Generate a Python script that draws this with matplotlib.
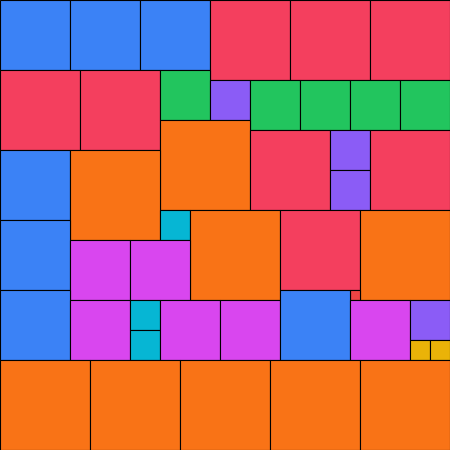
import matplotlib
matplotlib.use("Agg")
import matplotlib.pyplot as plt
from matplotlib.patches import Rectangle

# group colours
palette = {
    "blue": "#3b82f6",
    "rose": "#f43f5e",
    "green": "#22c55e",
    "violet": "#8b5cf6",
    "orange": "#f97316",
    "cyan": "#06b6d4",
    "fuchsia": "#d946ef",
    "yellow": "#eab308",
    "red": "#ef4444",
}

# packed squares: group, left, top, side (chart units)
groups = ["blue", "blue", "blue", "rose", "rose", "rose",
          "rose", "rose", "green", "violet", "green", "green", "green", "green",
          "orange", "rose", "violet", "violet", "rose",
          "blue", "orange",
          "cyan", "orange", "rose", "orange", "red",
          "blue", "fuchsia", "fuchsia",
          "blue", "fuchsia", "cyan", "cyan", "fuchsia", "fuchsia", "blue",
          "fuchsia", "violet", "yellow", "yellow",
          "orange", "orange", "orange", "orange", "orange"]
lefts = [0, 70, 140, 210, 290, 370,
         0, 80, 160, 210, 250, 300, 350, 400,
         160, 250, 330, 330, 370,
         0, 70,
         160, 190, 280, 360, 350,
         0, 70, 130,
         0, 70, 130, 130, 160, 220, 280,
         350, 410, 410, 430,
         0, 90, 180, 270, 360]
tops = [0, 0, 0, 0, 0, 0,
        70, 70, 70, 80, 80, 80, 80, 80,
        120, 130, 130, 170, 130,
        150, 150,
        210, 210, 210, 210, 290,
        220, 240, 240,
        290, 300, 300, 330, 300, 300, 290,
        300, 300, 340, 340,
        360, 360, 360, 360, 360]
sides = [70, 70, 70, 80, 80, 80,
         80, 80, 50, 40, 50, 50, 50, 50,
         90, 80, 40, 40, 80,
         70, 90,
         30, 90, 80, 90, 10,
         70, 60, 60,
         70, 60, 30, 30, 60, 60, 70,
         60, 40, 20, 20,
         90, 90, 90, 90, 90]

fig = plt.figure(figsize=(4.5, 4.5), dpi=100)
ax = fig.add_axes([0, 0, 1, 1])
ax.set_xlim(0, 450)
ax.set_ylim(450, 0)
ax.axis("off")

for g, x, y, s in zip(groups, lefts, tops, sides):
    ax.add_patch(Rectangle((x, y), s, s, facecolor=palette[g],
                           edgecolor="black", linewidth=0.8))

fig.savefig("out.png", dpi=100)
